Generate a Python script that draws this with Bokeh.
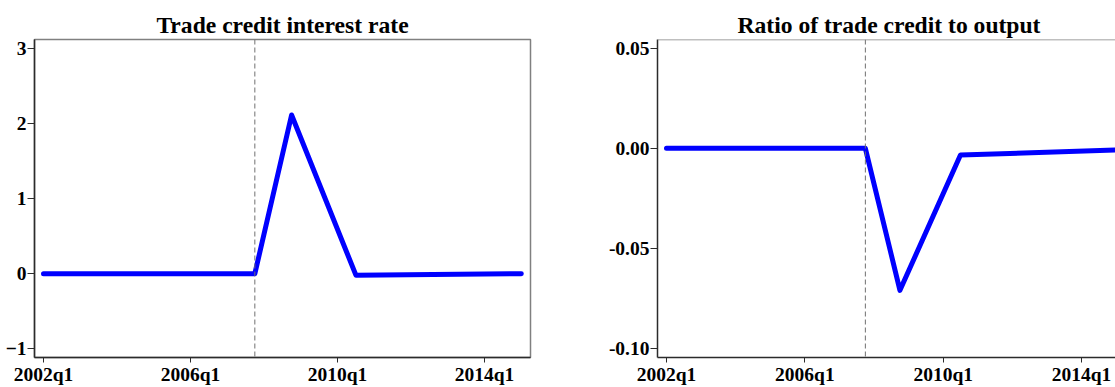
from bokeh.plotting import figure
from bokeh.models import Span, FixedTicker, Range1d, NumeralTickFormatter
from bokeh.layouts import row
from bokeh.embed import file_html
from bokeh.resources import INLINE

# quarter index: 0 = 2002q1
quarter_ticks = [0, 16, 32, 48]
quarter_labels = ["2002q1", "2006q1", "2010q1", "2014q1"]
shock_quarter = 23  # 2007q4

rate_t = [0, 23, 27, 34, 52]
rate_v = [0.0, 0.0, 2.11, -0.02, 0.0]

ratio_t = [0, 23, 27, 34, 52]
ratio_v = [0.0, 0.0, -0.0708, -0.0033, -0.0008]

rate_yticks = [-1, 0, 1, 2, 3]
ratio_yticks = [-0.10, -0.05, 0.00, 0.05]

FONT = "Liberation Serif"
TICK_SIZE = "19.5px"
AXIS_COLOR = "#2b2b2b"
FRAME_COLOR = "#808080"


def style(p):
    p.title.text_font = FONT
    p.title.text_font_style = "bold"
    p.title.text_font_size = "23.6px"
    p.title.text_color = "black"
    p.title.standoff = 4
    p.grid.visible = False
    p.background_fill_color = "white"
    p.border_fill_color = "white"
    for ax in (p.xaxis[0], p.yaxis[0]):
        ax.major_label_text_font = FONT
        ax.major_label_text_font_style = "bold"
        ax.major_label_text_font_size = TICK_SIZE
        ax.major_label_text_color = "black"
        ax.axis_line_color = AXIS_COLOR
        ax.axis_line_width = 1.5
        ax.major_tick_line_color = AXIS_COLOR
        ax.major_tick_line_width = 1
        ax.minor_tick_line_color = None
        ax.major_tick_in = 0
        ax.major_label_standoff = 1
    p.xaxis[0].major_tick_out = 5
    p.yaxis[0].major_tick_out = 7
    p.xaxis[0].ticker = FixedTicker(ticks=quarter_ticks)
    p.xaxis[0].major_label_overrides = {t: l for t, l in zip(quarter_ticks, quarter_labels)}
    p.add_layout(Span(location=shock_quarter, dimension="height", line_color="#707070",
                      line_width=1, line_dash="5 3"))


left = figure(width=600, height=387, output_backend="svg", toolbar_location=None,
              title="Trade credit interest rate",
              x_range=Range1d(-0.98, 53.0), y_range=Range1d(-1.115, 3.115),
              min_border_left=34, min_border_right=70, min_border_top=39, min_border_bottom=28)
style(left)
left.title.align = "center"
left.outline_line_color = FRAME_COLOR
left.outline_line_width = 1.5
left.yaxis[0].ticker = FixedTicker(ticks=rate_yticks)
left.line(rate_t, rate_v, line_color="#0000ff", line_width=5, line_cap="round", line_join="round")

right = figure(width=515, height=387, output_backend="svg", toolbar_location=None,
               title="Ratio of trade credit to output",
               x_range=Range1d(-1.04, 51.93), y_range=Range1d(-0.1043, 0.0543),
               min_border_left=57, min_border_right=0, min_border_top=39, min_border_bottom=28)
style(right)
right.title.align = "left"
right.title.offset = 80
right.outline_line_color = None
right.add_layout(Span(location=0.0543, dimension="width", line_color=FRAME_COLOR, line_width=1.5))
right.yaxis[0].ticker = FixedTicker(ticks=ratio_yticks)
right.yaxis[0].formatter = NumeralTickFormatter(format="0.00")
right.line(ratio_t, ratio_v, line_color="#0000ff", line_width=5, line_cap="round", line_join="round")

layout = row(left, right)
open("out.html", "w").write(file_html(layout, INLINE))
